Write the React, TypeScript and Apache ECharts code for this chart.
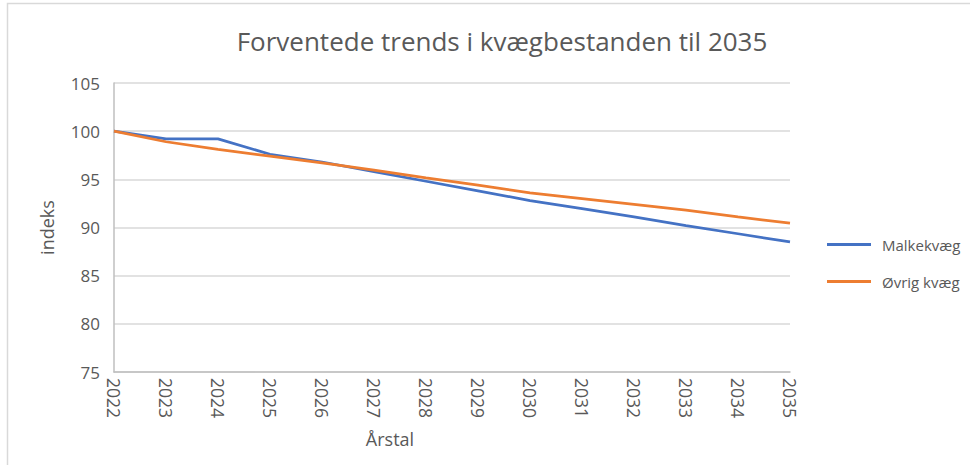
import React, { useEffect, useRef } from "react";
import * as echarts from "echarts";

const years = ["2022","2023","2024","2025","2026","2027","2028","2029","2030","2031","2032","2033","2034","2035"];
const malkekvaeg = [100, 99.2, 99.2, 97.6, 96.8, 95.8, 94.8, 93.8, 92.8, 91.95, 91.1, 90.2, 89.35, 88.5];
const ovrigKvaeg = [100, 98.9, 98.1, 97.4, 96.7, 95.95, 95.15, 94.4, 93.6, 93.0, 92.4, 91.8, 91.1, 90.45];
const yTicks = { min: 75, max: 105, interval: 5 };

const FONT = "'Open Sans', 'Noto Sans', sans-serif";
const GREY = "#595959";

export default function App() {
  const ref = useRef<HTMLDivElement>(null);
  useEffect(() => {
    if (!ref.current) return;
    const chart = echarts.init(ref.current, null, { renderer: "svg" });
    chart.setOption({
      animation: false,
      backgroundColor: "#ffffff",
      title: {
        text: "Forventede trends i kvægbestanden til 2035",
        left: 497,
        textAlign: "center",
        top: 23,
        textStyle: { fontFamily: FONT, fontSize: 26, fontWeight: "normal", color: GREY },
      },
      graphic: [
        {
          type: "rect",
          shape: { x: 7.5, y: 3.5, width: 1000, height: 500 },
          style: { fill: "none", stroke: "#d9d9d9", lineWidth: 1.5 },
          silent: true,
        },
      ],
      legend: {
        orient: "vertical",
        left: 822,
        top: 232,
        itemGap: 22,
        itemWidth: 44,
        itemHeight: 3,
        icon: "rect",
        textStyle: { fontFamily: FONT, fontSize: 15, color: GREY, padding: [0, 0, 0, 6] },
        data: ["Malkekvæg", "Øvrig kvæg"],
      },
      grid: { left: 114, right: 180, top: 83, bottom: 93, containLabel: false },
      xAxis: {
        type: "category",
        data: years,
        boundaryGap: false,
        name: "Årstal",
        nameLocation: "middle",
        nameGap: 58,
        nameTextStyle: { fontFamily: FONT, fontSize: 18, color: GREY, padding: [0, 124, 0, 0] },
        axisLine: { lineStyle: { color: "#bfbfbf", width: 1.5 } },
        axisTick: { show: false },
        axisLabel: {
          rotate: -90,
          margin: 6,
          fontFamily: FONT,
          fontSize: 17.5,
          color: GREY,
        },
      },
      yAxis: {
        type: "value",
        min: yTicks.min,
        max: yTicks.max,
        interval: yTicks.interval,
        name: "indeks",
        nameLocation: "middle",
        nameGap: 58,
        nameRotate: 90,
        nameTextStyle: { fontFamily: FONT, fontSize: 18, color: GREY },
        axisLine: { show: true, lineStyle: { color: "#bfbfbf", width: 1.5 } },
        axisTick: { show: false },
        splitLine: { lineStyle: { color: "#d9d9d9", width: 1.5 } },
        axisLabel: { fontFamily: FONT, fontSize: 17, color: GREY, margin: 14 },
      },
      series: [
        {
          name: "Malkekvæg",
          type: "line",
          data: malkekvaeg,
          showSymbol: false,
          symbol: "none",
          lineStyle: { color: "#4472c4", width: 2.75 },
          itemStyle: { color: "#4472c4" },
        },
        {
          name: "Øvrig kvæg",
          type: "line",
          data: ovrigKvaeg,
          showSymbol: false,
          symbol: "none",
          lineStyle: { color: "#ed7d31", width: 2.75 },
          itemStyle: { color: "#ed7d31" },
        },
      ],
    });
    return () => chart.dispose();
  }, []);
  return (
    <div
      ref={ref}
      style={{ position: "fixed", left: 0, top: 0, width: 970, height: 465 }}
    />
  );
}
